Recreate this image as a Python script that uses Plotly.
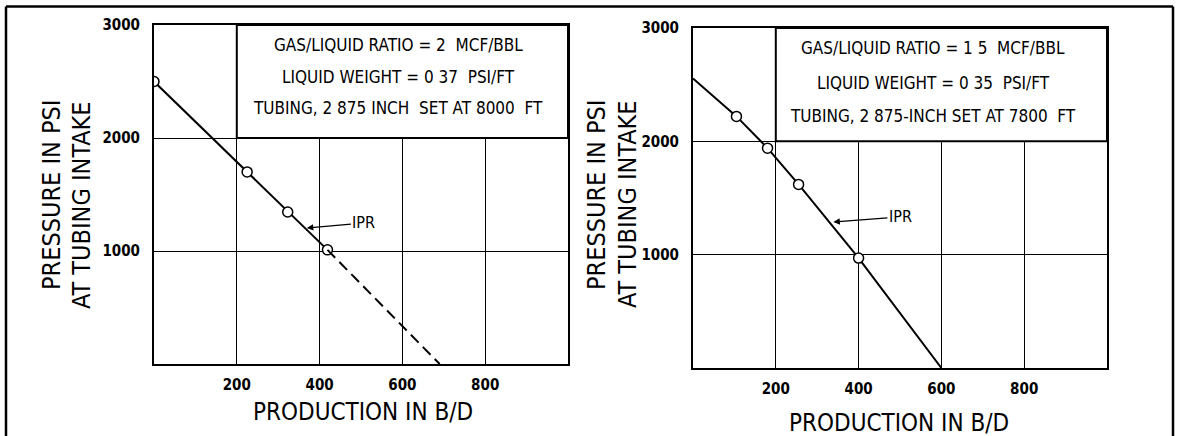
import plotly.graph_objects as go

# ---------------- data ----------------
left_pts_x = [0, 225, 323, 419]
left_pts_y = [2500, 1700, 1345, 1010]
left_dash_x = [419, 690]
left_dash_y = [1010, 0]

right_line_x = [0, 105, 180, 255, 400, 600]
right_line_y = [2555, 2220, 1940, 1620, 970, 0]
right_pts_x = [105, 180, 255, 400]
right_pts_y = [2220, 1940, 1620, 970]

x_ticks = [200, 400, 600, 800]
x_ticktext = ["200", "400", "600", "800"]
y_ticks = [1000, 2000, 3000]
y_ticktext = ["1000", "2000", "3000"]

left_box_lines = ["GAS/LIQUID RATIO = 2  MCF/BBL",
                  "LIQUID WEIGHT = 0 37  PSI/FT",
                  "TUBING, 2 875 INCH  SET AT 8000  FT"]
right_box_lines = ["GAS/LIQUID RATIO = 1 5  MCF/BBL",
                   "LIQUID WEIGHT = 0 35  PSI/FT",
                   "TUBING, 2 875-INCH SET AT 7800  FT"]

W, H = 1179, 436
FONT = "Liberation Sans Narrow, Arial Narrow, DejaVu Sans Condensed, Liberation Sans, Arial, sans-serif"

fig = go.Figure()

# left panel
fig.add_trace(go.Scatter(x=left_pts_x, y=left_pts_y, mode="lines+markers",
                         line=dict(color="black", width=2),
                         marker=dict(symbol="circle", size=10, color="white",
                                     line=dict(color="black", width=1.5)),
                         xaxis="x", yaxis="y", showlegend=False))
fig.add_trace(go.Scatter(x=left_dash_x, y=left_dash_y, mode="lines",
                         line=dict(color="black", width=2, dash="11px,6px"),
                         xaxis="x", yaxis="y", showlegend=False))
# right panel
fig.add_trace(go.Scatter(x=right_line_x, y=right_line_y, mode="lines",
                         line=dict(color="black", width=2),
                         xaxis="x2", yaxis="y2", showlegend=False))
fig.add_trace(go.Scatter(x=right_pts_x, y=right_pts_y, mode="markers",
                         marker=dict(symbol="circle", size=10, color="white",
                                     line=dict(color="black", width=1.5)),
                         xaxis="x2", yaxis="y2", showlegend=False))

TICKF = dict(family=FONT, size=15, color="black", weight="bold")

def xax(domain, anchor):
    return dict(domain=domain, anchor=anchor, range=[0, 1000], automargin=False,
                tickmode="array", tickvals=x_ticks, ticktext=x_ticktext,
                showgrid=True, gridcolor="black", gridwidth=1.3,
                showline=True, mirror=True, linecolor="black", linewidth=2,
                zeroline=False, ticks="", ticklabelstandoff=6, tickfont=TICKF)

def yax(domain, anchor):
    return dict(domain=domain, anchor=anchor, range=[0, 3000], automargin=False,
                tickmode="array", tickvals=y_ticks, ticktext=y_ticktext,
                showgrid=True, gridcolor="black", gridwidth=1.3,
                showline=True, mirror=True, linecolor="black", linewidth=2,
                zeroline=False, ticks="", ticklabelstandoff=9, tickfont=TICKF)

fig.update_layout(
    width=W, height=H, autosize=False, template="none",
    margin=dict(l=0, r=0, t=0, b=0, pad=0),
    paper_bgcolor="white", plot_bgcolor="white",
    xaxis=xax([154 / W, 568 / W], "y"),
    yaxis=yax([1 - 364 / H, 1 - 25 / H], "x"),
    xaxis2=xax([693 / W, 1107 / W], "y2"),
    yaxis2=yax([1 - 368 / H, 1 - 28 / H], "x2"),
)

shapes = []
annotations = []
# text boxes
for xr, yr in (("x", "y"), ("x2", "y2")):
    shapes.append(dict(type="rect", xref=xr, yref=yr, x0=200, x1=1000, y0=2000, y1=3000,
                       fillcolor="white", line=dict(color="black", width=2), layer="above"))

for t, yv in zip(left_box_lines, [2823, 2540, 2265]):
    annotations.append(dict(text=t, xref="x", yref="y", x=590, y=yv, showarrow=False,
                            font=dict(family=FONT, size=17, color="black")))
for t, yv in zip(right_box_lines, [2824, 2515, 2225]):
    annotations.append(dict(text=t, xref="x2", yref="y2", x=580, y=yv, showarrow=False,
                            font=dict(family=FONT, size=17, color="black")))

# IPR labels
annotations.append(dict(text="IPR", xref="x", yref="y", x=369, y=1204,
                        axref="x", ayref="y", ax=507, ay=1248, showarrow=True,
                        arrowhead=2, arrowsize=1, arrowwidth=1.3, arrowcolor="black",
                        font=dict(family=FONT, size=16, color="black")))
annotations.append(dict(text="IPR", xref="x2", yref="y2", x=339, y=1289,
                        axref="x2", ayref="y2", ax=501, ay=1333, showarrow=True,
                        arrowhead=2, arrowsize=1, arrowwidth=1.3, arrowcolor="black",
                        font=dict(family=FONT, size=16, color="black")))

# axis titles
TF = dict(family=FONT, size=25, color="black")
for xp, yp, t in ((51, 195, "PRESSURE IN PSI"), (81, 205, "AT TUBING INTAKE"),
                  (596, 195, "PRESSURE IN PSI"), (627, 204, "AT TUBING INTAKE")):
    annotations.append(dict(text=t, xref="paper", yref="paper", x=xp / W, y=1 - yp / H,
                            textangle=-90, showarrow=False, font=TF,
                            xanchor="center", yanchor="middle"))
XF = dict(family=FONT, size=24, color="black")
for xp, yp in ((363, 412), (899, 423)):
    annotations.append(dict(text="PRODUCTION IN B/D", xref="paper", yref="paper",
                            x=xp / W, y=1 - yp / H, showarrow=False, font=XF,
                            xanchor="center", yanchor="middle"))

# outer frame (open at the bottom, as in the cropped original)
shapes.append(dict(type="line", xref="paper", yref="paper", x0=6 / W, x1=1173 / W,
                   y0=1 - 6.5 / H, y1=1 - 6.5 / H, line=dict(color="black", width=2.5)))
shapes.append(dict(type="line", xref="paper", yref="paper", x0=6 / W, x1=6 / W,
                   y0=0, y1=1 - 6.5 / H, line=dict(color="black", width=2.5)))
shapes.append(dict(type="line", xref="paper", yref="paper", x0=1173 / W, x1=1173 / W,
                   y0=0, y1=1 - 6.5 / H, line=dict(color="black", width=2.5)))

fig.update_layout(shapes=shapes, annotations=annotations)
fig.write_html("out.html", config={"displayModeBar": False},
               post_script="document.body.style.margin='0';document.body.style.padding='0';")
